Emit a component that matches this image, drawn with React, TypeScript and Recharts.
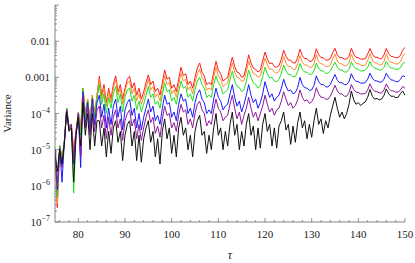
import React from 'react';
import { LineChart, Line, XAxis, YAxis } from 'recharts';

// Sampling grid (tau)
const taus = [
  75, 75.5, 76, 76.5, 77, 77.5, 78, 78.5, 79, 79.5,
  80, 80.5, 81, 81.5, 82, 82.5, 83, 83.5, 84, 84.5,
  85, 85.5, 86, 86.5, 87, 87.5, 88, 88.5, 89, 89.5,
  90, 90.5, 91, 91.5, 92, 92.5, 93, 93.5, 94, 94.5,
  95, 95.5, 96, 96.5, 97, 97.5, 98, 98.5, 99, 99.5,
  100, 100.5, 101, 101.5, 102, 102.5, 103, 103.5, 104, 104.5,
  105, 105.5, 106, 106.5, 107, 107.5, 108, 108.5, 109, 109.5,
  110, 110.5, 111, 111.5, 112, 112.5, 113, 113.5, 114, 114.5,
  115, 115.5, 116, 116.5, 117, 117.5, 118, 118.5, 119, 119.5,
  120, 120.5, 121, 121.5, 122, 122.5, 123, 123.5, 124, 124.5,
  125, 125.5, 126, 126.5, 127, 127.5, 128, 128.5, 129, 129.5,
  130, 130.5, 131, 131.5, 132, 132.5, 133, 133.5, 134, 134.5,
  135, 135.5, 136, 136.5, 137, 137.5, 138, 138.5, 139, 139.5,
  140, 140.5, 141, 141.5, 142, 142.5, 143, 143.5, 144, 144.5,
  145, 145.5, 146, 146.5, 147, 147.5, 148, 148.5, 149, 149.5,
  150,
];

const redSeries = [
  1e-5, 2.5e-7, 1.3e-5, 6.3e-6, 1.6e-5, 1.4e-4, 4.5e-5, 5e-5, 1e-5, 3.2e-5,
  1.1e-4, 4e-5, 5e-4, 1e-4, 2.5e-4, 6.3e-5, 3.2e-4, 1e-4, 3.2e-4, 1.07e-3,
  3.2e-4, 6.3e-4, 2e-4, 5e-4, 2.5e-4, 6.3e-4, 1.1e-3, 4e-4, 6.3e-4, 2.5e-4,
  5e-4, 8.9e-4, 1.07e-3, 5e-4, 7.1e-4, 3.2e-4, 5e-4, 2.5e-4, 4e-4, 7.1e-4,
  1.17e-3, 6.3e-4, 7.9e-4, 4e-4, 5e-4, 3.2e-4, 7.1e-4, 1.6e-3, 8.9e-4, 1e-3,
  5e-4, 6.3e-4, 4e-4, 8.9e-4, 1.9e-3, 1.1e-3, 1.26e-3, 6.3e-4, 7.9e-4, 5e-4,
  1e-3, 1.8e-3, 2.5e-3, 1.4e-3, 1.1e-3, 6.3e-4, 7.1e-4, 6.3e-4, 1.4e-3, 2.75e-3,
  1.6e-3, 1.26e-3, 7.9e-4, 8.9e-4, 1e-3, 2e-3, 3.6e-3, 2e-3, 1.4e-3, 1.3e-3,
  1e-3, 1.1e-3, 2e-3, 4.2e-3, 2.5e-3, 1.8e-3, 1.66e-3, 1.4e-3, 1.6e-3, 2.8e-3,
  5e-3, 3.2e-3, 2.4e-3, 2.5e-3, 2e-3, 1.9e-3, 2.1e-3, 3.2e-3, 5.6e-3, 3.8e-3,
  3e-3, 3e-3, 2.5e-3, 2.5e-3, 3.5e-3, 6e-3, 4e-3, 3.3e-3, 3.3e-3, 2.8e-3,
  2.8e-3, 3.5e-3, 6.2e-3, 4.2e-3, 3.5e-3, 3.5e-3, 3e-3, 3e-3, 3.3e-3, 4.8e-3,
  6.3e-3, 4.2e-3, 3.5e-3, 3.5e-3, 3.2e-3, 3.2e-3, 3.8e-3, 6.3e-3, 4.4e-3, 3.6e-3,
  3.5e-3, 3.2e-3, 3.2e-3, 3.3e-3, 4.4e-3, 6.3e-3, 4.4e-3, 3.6e-3, 3.6e-3, 3.3e-3,
  3.3e-3, 4.2e-3, 6.3e-3, 4.5e-3, 3.8e-3, 3.7e-3, 3.5e-3, 3.5e-3, 4e-3, 5.6e-3,
  6.8e-3,
];

const orangeSeries = [
  1e-5, 3.2e-7, 1.3e-5, 5.6e-6, 1.6e-5, 1.4e-4, 4.5e-5, 5e-5, 7.9e-6, 3.2e-5,
  1.1e-4, 3.5e-5, 5e-4, 8.9e-5, 2.5e-4, 5.6e-5, 3.2e-4, 8.9e-5, 3.2e-4, 8.9e-4,
  2.5e-4, 5e-4, 1.6e-4, 4e-4, 2e-4, 5e-4, 8.9e-4, 3.2e-4, 5e-4, 1.8e-4,
  4e-4, 7.1e-4, 7.9e-4, 3.5e-4, 5e-4, 2.2e-4, 3.5e-4, 1.8e-4, 2.8e-4, 5e-4,
  8.9e-4, 4.5e-4, 5.6e-4, 2.8e-4, 3.5e-4, 2.2e-4, 5e-4, 1.1e-3, 6.3e-4, 7.1e-4,
  3.5e-4, 4.5e-4, 2.8e-4, 6.3e-4, 1.3e-3, 7.9e-4, 8.9e-4, 4.5e-4, 5.6e-4, 3.5e-4,
  7.1e-4, 1.26e-3, 1.66e-3, 1e-3, 7.9e-4, 4.5e-4, 5e-4, 4.5e-4, 1e-3, 1.9e-3,
  1.1e-3, 8.9e-4, 5.6e-4, 6.3e-4, 7.1e-4, 1.4e-3, 2.5e-3, 1.4e-3, 1e-3, 9.5e-4,
  7.6e-4, 8.3e-4, 1.4e-3, 2.8e-3, 1.8e-3, 1.26e-3, 1.2e-3, 1e-3, 1.1e-3, 1.9e-3,
  3.4e-3, 2.2e-3, 1.66e-3, 1.7e-3, 1.4e-3, 1.3e-3, 1.45e-3, 2.2e-3, 3.8e-3, 2.5e-3,
  2e-3, 2e-3, 1.66e-3, 1.66e-3, 2.4e-3, 4e-3, 2.6e-3, 2.2e-3, 2.2e-3, 1.9e-3,
  1.9e-3, 2.4e-3, 4.2e-3, 2.75e-3, 2.35e-3, 2.3e-3, 2e-3, 2e-3, 2.2e-3, 3.2e-3,
  4.4e-3, 2.8e-3, 2.4e-3, 2.35e-3, 2.1e-3, 2.1e-3, 2.5e-3, 4.4e-3, 3e-3, 2.45e-3,
  2.4e-3, 2.2e-3, 2.1e-3, 2.2e-3, 2.9e-3, 4.5e-3, 3e-3, 2.5e-3, 2.45e-3, 2.2e-3,
  2.2e-3, 2.75e-3, 4.5e-3, 3e-3, 2.6e-3, 2.5e-3, 2.35e-3, 2.35e-3, 2.7e-3, 3.8e-3,
  4.6e-3,
];

const greenSeries = [
  1.1e-5, 5e-7, 1.3e-5, 5e-6, 1.8e-5, 1.4e-4, 4e-5, 5e-5, 6.3e-7, 2.5e-5,
  1e-4, 2.5e-5, 5e-4, 7.9e-5, 2.2e-4, 5e-5, 2.8e-4, 7.9e-5, 2.5e-4, 6.3e-4,
  1.8e-4, 3.5e-4, 1e-4, 2.8e-4, 1.4e-4, 3.5e-4, 5.6e-4, 2e-4, 3.5e-4, 1.1e-4,
  2.8e-4, 4.5e-4, 5e-4, 2.2e-4, 3.2e-4, 1.26e-4, 2.2e-4, 1.1e-4, 1.8e-4, 3.2e-4,
  5.6e-4, 2.8e-4, 3.5e-4, 1.8e-4, 2.2e-4, 1.4e-4, 3.2e-4, 7.1e-4, 4e-4, 4.5e-4,
  2.2e-4, 2.8e-4, 1.8e-4, 4e-4, 7.9e-4, 5e-4, 5.6e-4, 2.8e-4, 3.5e-4, 2.2e-4,
  4.5e-4, 7.9e-4, 1e-3, 6.3e-4, 5e-4, 2.8e-4, 3.2e-4, 2.8e-4, 6.3e-4, 1.1e-3,
  7.1e-4, 5.6e-4, 3.5e-4, 4e-4, 4.5e-4, 8.9e-4, 1.5e-3, 7.9e-4, 5.6e-4, 5.2e-4,
  4e-4, 4.5e-4, 7.9e-4, 1.6e-3, 1e-3, 7.1e-4, 6.3e-4, 5e-4, 6e-4, 1.05e-3,
  1.9e-3, 1.26e-3, 9.5e-4, 1e-3, 7.9e-4, 7.6e-4, 8.7e-4, 1.3e-3, 2.2e-3, 1.5e-3,
  1.2e-3, 1.2e-3, 1.05e-3, 1.05e-3, 1.45e-3, 2.4e-3, 1.66e-3, 1.4e-3, 1.4e-3, 1.2e-3,
  1.2e-3, 1.5e-3, 2.5e-3, 1.8e-3, 1.5e-3, 1.5e-3, 1.3e-3, 1.3e-3, 1.5e-3, 2e-3,
  2.6e-3, 1.9e-3, 1.6e-3, 1.6e-3, 1.4e-3, 1.4e-3, 1.66e-3, 2.7e-3, 2e-3, 1.7e-3,
  1.66e-3, 1.5e-3, 1.5e-3, 1.6e-3, 1.9e-3, 2.75e-3, 2e-3, 1.8e-3, 1.7e-3, 1.6e-3,
  1.6e-3, 1.9e-3, 2.75e-3, 2.1e-3, 1.8e-3, 1.8e-3, 1.66e-3, 1.66e-3, 1.85e-3, 2.4e-3,
  2.6e-3,
];

const blueSeries = [
  1e-5, 7.9e-7, 1.1e-5, 1.26e-6, 1.6e-5, 1.26e-4, 4e-5, 4.5e-5, 4e-6, 2.5e-5,
  1e-4, 3.2e-6, 4e-4, 5e-5, 2e-4, 3.2e-5, 2.5e-4, 5e-5, 2e-4, 3.2e-4,
  7.9e-5, 1.8e-4, 4e-5, 1.4e-4, 5e-5, 1.6e-4, 2.5e-4, 7.9e-5, 1.6e-4, 3.5e-5,
  1.26e-4, 2e-4, 2.5e-4, 8.9e-5, 1.4e-4, 4e-5, 1e-4, 3.5e-5, 7.9e-5, 1.4e-4,
  2.5e-4, 1.1e-4, 1.6e-4, 6.3e-5, 8.9e-5, 5e-5, 1.4e-4, 3.2e-4, 1.8e-4, 2e-4,
  7.9e-5, 1.1e-4, 6.3e-5, 1.8e-4, 3.5e-4, 2.2e-4, 2.5e-4, 1e-4, 1.4e-4, 7.9e-5,
  2e-4, 3.5e-4, 4.5e-4, 2.5e-4, 2e-4, 1e-4, 1.26e-4, 1e-4, 2.5e-4, 5e-4,
  2.8e-4, 2.2e-4, 1.26e-4, 1.6e-4, 1.8e-4, 3.5e-4, 6.3e-4, 2.8e-4, 1.6e-4, 2.2e-4,
  1.1e-4, 1.8e-4, 3.2e-4, 6.3e-4, 3.2e-4, 2e-4, 2.5e-4, 1.4e-4, 2e-4, 3.5e-4,
  7.6e-4, 4.5e-4, 2.8e-4, 3.5e-4, 2.2e-4, 2.8e-4, 3.2e-4, 5e-4, 8.9e-4, 5.6e-4,
  4.2e-4, 4.5e-4, 3.5e-4, 3.8e-4, 5.2e-4, 1e-3, 6.3e-4, 5.2e-4, 5e-4, 4.4e-4,
  4.5e-4, 6e-4, 1.1e-3, 7.6e-4, 6.3e-4, 6.3e-4, 5.5e-4, 5.4e-4, 6.3e-4, 8.9e-4,
  1.2e-3, 8.3e-4, 7.1e-4, 7.1e-4, 6.3e-4, 6.3e-4, 7.6e-4, 1.26e-3, 9.1e-4, 7.8e-4,
  7.6e-4, 6.9e-4, 6.9e-4, 7.2e-4, 8.9e-4, 1.3e-3, 9.5e-4, 8.1e-4, 7.9e-4, 7.4e-4,
  7.4e-4, 8.9e-4, 1.3e-3, 1e-3, 8.5e-4, 8.3e-4, 7.6e-4, 7.6e-4, 8.7e-4, 1.1e-3,
  1.05e-3,
];

const purpleSeries = [
  1e-5, 1e-6, 1e-5, 3.2e-6, 1.6e-5, 1.26e-4, 3.5e-5, 5e-5, 5e-6, 3.2e-5,
  8.9e-5, 6.3e-6, 3.2e-4, 4e-5, 1.6e-4, 2.5e-5, 1.6e-4, 3.2e-5, 1.26e-4, 1.6e-4,
  4e-5, 8.9e-5, 2e-5, 7.9e-5, 2.5e-5, 7.9e-5, 1.26e-4, 4e-5, 7.1e-5, 1.8e-5,
  6.3e-5, 1e-4, 1.26e-4, 4.5e-5, 7.1e-5, 2e-5, 5e-5, 1.8e-5, 4e-5, 7.9e-5,
  1.26e-4, 5.6e-5, 7.9e-5, 2.8e-5, 4.5e-5, 2.2e-5, 7.1e-5, 1.6e-4, 8.9e-5, 1e-4,
  4e-5, 5.6e-5, 3.2e-5, 8.9e-5, 1.8e-4, 1.1e-4, 1.26e-4, 5e-5, 7.1e-5, 4e-5,
  1e-4, 1.8e-4, 2.2e-4, 1.26e-4, 1e-4, 4.5e-5, 6.3e-5, 5e-5, 1.26e-4, 2.5e-4,
  1.4e-4, 1.1e-4, 6.3e-5, 7.9e-5, 8.9e-5, 1.8e-4, 3.2e-4, 1.4e-4, 7.1e-5, 1.1e-4,
  5e-5, 8.9e-5, 1.4e-4, 2.8e-4, 1.4e-4, 7.9e-5, 1.1e-4, 6.3e-5, 1e-4, 1.6e-4,
  3.2e-4, 1.8e-4, 1.1e-4, 1.4e-4, 8.9e-5, 1.26e-4, 1.4e-4, 2.2e-4, 4e-4, 2.5e-4,
  1.66e-4, 2e-4, 1.4e-4, 1.66e-4, 2.4e-4, 4.5e-4, 2.8e-4, 2.2e-4, 2.4e-4, 1.9e-4,
  2.1e-4, 2.8e-4, 5.2e-4, 3.5e-4, 2.8e-4, 2.8e-4, 2.5e-4, 2.5e-4, 3e-4, 4.2e-4,
  6e-4, 4.2e-4, 3.5e-4, 3.5e-4, 3e-4, 3e-4, 3.8e-4, 6.3e-4, 4.6e-4, 3.9e-4,
  3.8e-4, 3.5e-4, 3.5e-4, 3.6e-4, 4.5e-4, 6.6e-4, 4.8e-4, 4.1e-4, 4e-4, 3.7e-4,
  3.7e-4, 4.5e-4, 6.6e-4, 5e-4, 4.3e-4, 4.2e-4, 3.9e-4, 3.9e-4, 4.4e-4, 5.6e-4,
  5e-4,
];

const blackSeries = [
  7.9e-6, 2.5e-6, 1e-5, 4e-6, 1.4e-5, 1.1e-4, 3.2e-5, 4e-5, 1.26e-6, 2.5e-5,
  7.9e-5, 1.26e-5, 2e-4, 2.5e-5, 1e-4, 1e-5, 1e-4, 1.26e-5, 6.3e-5, 6.3e-5,
  1.26e-5, 4e-5, 6.3e-6, 3.2e-5, 7.9e-6, 4e-5, 6.3e-5, 1.6e-5, 3.2e-5, 5e-6,
  2.5e-5, 5e-5, 6.3e-5, 1.26e-5, 3.2e-5, 5e-6, 2.5e-5, 4.5e-6, 2e-5, 4e-5,
  6.3e-5, 1.6e-5, 3.2e-5, 6.3e-6, 2e-5, 4e-6, 3.2e-5, 7.1e-5, 2e-5, 4e-5,
  7.9e-6, 2.5e-5, 6.3e-6, 4e-5, 7.9e-5, 2.5e-5, 4e-5, 1e-5, 2.5e-5, 6.3e-6,
  3.2e-5, 6.3e-5, 8.9e-5, 2.5e-5, 3.2e-5, 7.9e-6, 2.5e-5, 1e-5, 4e-5, 1e-4,
  2.5e-5, 4e-5, 1e-5, 3.2e-5, 1.26e-5, 5e-5, 1.1e-4, 2.5e-5, 5e-5, 1e-5,
  3.2e-5, 1.26e-5, 5e-5, 1e-4, 2.5e-5, 4.5e-5, 1e-5, 4e-5, 1.1e-5, 5e-5,
  1e-4, 3.2e-5, 5e-5, 1.26e-5, 4e-5, 1.1e-5, 4.5e-5, 6.3e-5, 1.1e-4, 3.5e-5,
  5e-5, 1.4e-5, 4.5e-5, 1.6e-5, 5.6e-5, 1.1e-4, 4e-5, 6.3e-5, 2e-5, 5e-5,
  2.2e-5, 6.3e-5, 1.4e-4, 5e-5, 7.1e-5, 2.8e-5, 6.3e-5, 4e-5, 8.9e-5, 1.6e-4,
  2.8e-4, 1.4e-4, 7.9e-5, 1.1e-4, 7.1e-5, 1e-4, 1.8e-4, 4.2e-4, 2.4e-4, 1.8e-4,
  2e-4, 1.66e-4, 1.9e-4, 2.1e-4, 2.8e-4, 4.6e-4, 3e-4, 2.5e-4, 2.6e-4, 2.4e-4,
  2.5e-4, 3.2e-4, 4.8e-4, 3.5e-4, 3e-4, 3e-4, 2.75e-4, 2.8e-4, 3.5e-4, 4.2e-4,
  3.2e-4,
];

// Axis ticks
const xTicks = [
  76, 78, 80, 82, 84, 86, 88, 90, 92, 94, 96, 98, 100, 102, 104, 106, 108, 110,
  112, 114, 116, 118, 120, 122, 124, 126, 128, 130, 132, 134, 136, 138, 140,
  142, 144, 146, 148, 150,
];
const xMajorTicks = [80, 90, 100, 110, 120, 130, 140, 150];

const yMajorTicks = [1e-7, 1e-6, 1e-5, 1e-4, 1e-3, 1e-2, 1e-1];
const yTickLabels = [
  { base: '10', exp: '\u22127' },
  { base: '10', exp: '\u22126' },
  { base: '10', exp: '\u22125' },
  { base: '10', exp: '\u22124' },
  { base: '0.001', exp: '' },
  { base: '0.01', exp: '' },
  null,
];
const yMinorMultipliers = [2, 3, 4, 5, 6, 7, 8, 9];
const yTicks: number[] = [];
yMajorTicks.forEach((d, i) => {
  yTicks.push(d);
  if (i < yMajorTicks.length - 1) yMinorMultipliers.forEach((m) => yTicks.push(m * d));
});

const seriesDefs = [
  { key: 'red', color: '#ff1a1a', values: redSeries },
  { key: 'orange', color: '#ff8a2a', values: orangeSeries },
  { key: 'green', color: '#1fe01f', values: greenSeries },
  { key: 'blue', color: '#1a1aff', values: blueSeries },
  { key: 'purple', color: '#8a1a9a', values: purpleSeries },
  { key: 'black', color: '#111111', values: blackSeries },
];

const data = taus.map((t, i) => {
  const row: Record<string, number> = { tau: t };
  seriesDefs.forEach((s) => {
    row[s.key] = s.values[i];
  });
  return row;
});

const FRAME = '#666';
const TEXT = '#222';
const FONT = '"Liberation Serif", "Times New Roman", serif';
const MAJOR_LEN = 4;
const MINOR_LEN = 2;

const majorYIndex = (v: number) =>
  yMajorTicks.findIndex((d) => Math.abs(v / d - 1) < 1e-6);

const BottomTick = (props: any) => {
  const { x, y, payload } = props;
  const v = payload.value;
  const major = xMajorTicks.includes(v);
  return (
    <g>
      <line x1={x} x2={x} y1={y} y2={y - (major ? MAJOR_LEN : MINOR_LEN)} stroke={FRAME} strokeWidth={0.7} />
      {major && (
        <text x={x} y={y + 16} textAnchor="middle" fontSize={11} fontFamily={FONT} fill={TEXT}>
          {v}
        </text>
      )}
    </g>
  );
};

const TopTick = (props: any) => {
  const { x, y, payload } = props;
  const major = xMajorTicks.includes(payload.value);
  return <line x1={x} x2={x} y1={y} y2={y + (major ? MAJOR_LEN : MINOR_LEN)} stroke={FRAME} strokeWidth={0.7} />;
};

const LeftTick = (props: any) => {
  const { x, y, payload } = props;
  const idx = majorYIndex(payload.value);
  const major = idx >= 0;
  const lab = major ? yTickLabels[idx] : null;
  return (
    <g>
      <line x1={x} x2={x + (major ? MAJOR_LEN : MINOR_LEN)} y1={y} y2={y} stroke={FRAME} strokeWidth={0.7} />
      {lab && (
        <text x={x - 5} y={y + 4} textAnchor="end" fontSize={11} fontFamily={FONT} fill={TEXT}>
          <tspan>{lab.base}</tspan>
          {lab.exp && (
            <tspan fontSize={8} dy={-5}>
              {lab.exp}
            </tspan>
          )}
        </text>
      )}
    </g>
  );
};

const RightTick = (props: any) => {
  const { x, y, payload } = props;
  const major = majorYIndex(payload.value) >= 0;
  return <line x1={x} x2={x - (major ? MAJOR_LEN : MINOR_LEN)} y1={y} y2={y} stroke={FRAME} strokeWidth={0.7} />;
};

const YTitle = (props: any) => {
  const vb = props.viewBox || { x: 0, y: 5, width: 55, height: 217 };
  const cx = vb.x + 7;
  const cy = vb.y + vb.height / 2;
  return (
    <text x={cx} y={cy} transform={`rotate(-90 ${cx} ${cy})`} textAnchor="middle" dominantBaseline="central" fontSize={11} fontFamily={FONT} fill={TEXT}>
      Variance
    </text>
  );
};

export default function App() {
  return (
    <div style={{ position: 'absolute', left: 0, top: 0, width: 415, height: 263, background: '#fff' }}>
      <LineChart width={415} height={263} data={data} margin={{ top: 5, right: 10, bottom: 0, left: 0 }}>
        <XAxis
          xAxisId="main"
          dataKey="tau"
          type="number"
          domain={[75, 150]}
          allowDataOverflow
          ticks={xTicks}
          interval={0}
          height={41}
          tickSize={0}
          tickMargin={0}
          tickLine={false}
          axisLine={{ stroke: FRAME, strokeWidth: 0.8 }}
          tick={<BottomTick />}
          label={{
            value: 'τ',
            position: 'insideBottom',
            offset: 4,
            fontSize: 12,
            fontStyle: 'italic',
            fontFamily: FONT,
            fill: TEXT,
          }}
        />
        <XAxis
          xAxisId="top"
          orientation="top"
          dataKey="tau"
          type="number"
          domain={[75, 150]}
          allowDataOverflow
          ticks={xTicks}
          interval={0}
          height={0}
          tickSize={0}
          tickMargin={0}
          tickLine={false}
          axisLine={{ stroke: FRAME, strokeWidth: 0.8 }}
          tick={<TopTick />}
        />
        <YAxis
          yAxisId="main"
          scale="log"
          type="number"
          domain={[1e-7, 0.1]}
          allowDataOverflow
          ticks={yTicks}
          interval={0}
          width={55}
          tickSize={0}
          tickMargin={0}
          tickLine={false}
          axisLine={{ stroke: FRAME, strokeWidth: 0.8 }}
          tick={<LeftTick />}
          label={<YTitle />}
        />
        <YAxis
          yAxisId="right"
          orientation="right"
          scale="log"
          type="number"
          domain={[1e-7, 0.1]}
          allowDataOverflow
          ticks={yTicks}
          interval={0}
          width={0}
          tickSize={0}
          tickMargin={0}
          tickLine={false}
          axisLine={{ stroke: FRAME, strokeWidth: 0.8 }}
          tick={<RightTick />}
        />
        {seriesDefs.map((s) => (
          <Line
            key={s.key}
            xAxisId="main"
            yAxisId="main"
            type="linear"
            dataKey={s.key}
            stroke={s.color}
            strokeWidth={1}
            dot={false}
            isAnimationActive={false}
          />
        ))}
      </LineChart>
    </div>
  );
}
